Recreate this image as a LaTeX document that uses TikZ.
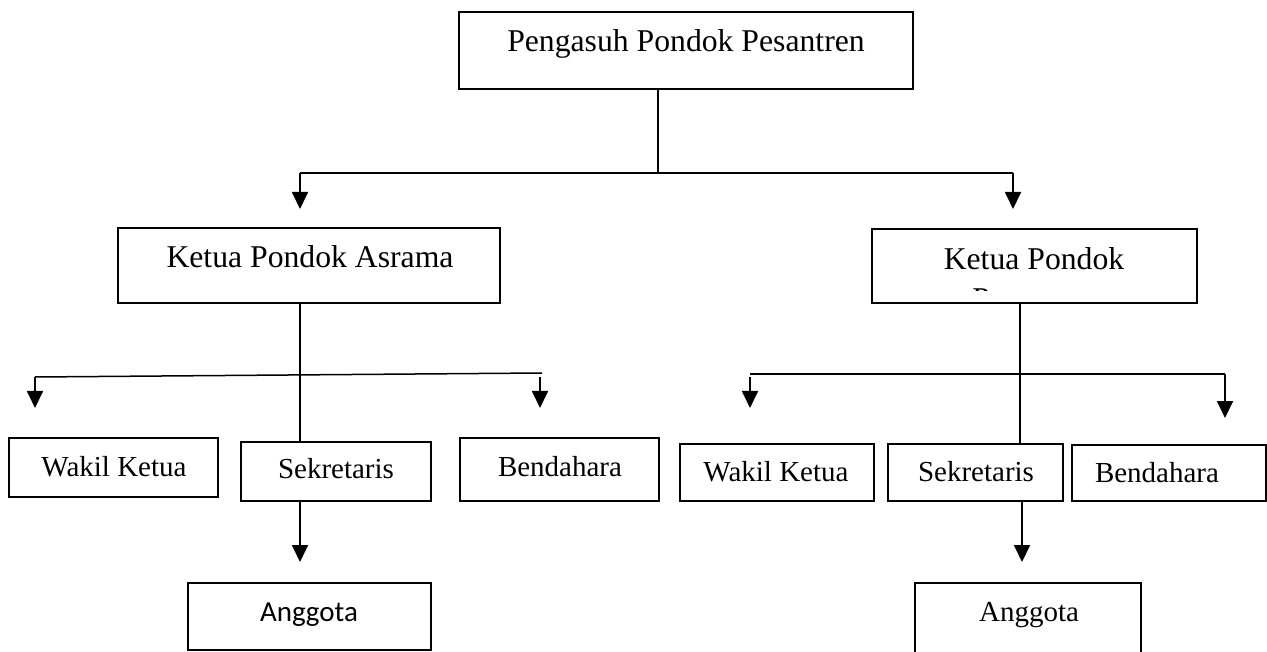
\documentclass[tikz,border=0pt]{standalone}
\usepackage{fontspec}
\setmainfont{Liberation Serif}
\newfontfamily\calibri{Carlito}
\usetikzlibrary{arrows.meta}
\begin{document}
\begin{tikzpicture}[x=1pt,y=-1pt,
  box/.style args={#1x#2}{draw, line width=1.4pt, inner sep=0pt, minimum width=#1pt, minimum height=#2pt},
  big/.style={anchor=base, inner sep=0pt, font=\fontsize{31.7}{38}\selectfont},
  small/.style={anchor=base, inner sep=0pt, font=\fontsize{29}{35}\selectfont},
  ln/.style={line width=1.5pt},
  arr/.style={line width=1.8pt, -{Triangle[width=16pt,length=17pt]}}]
\useasboundingbox (0,0) rectangle (1267,652);
\clip (0,0) rectangle (1267,652);
% boxes
\node[box=454x77] (top) at (686,50.5) {};
\node[box=382x75] (kL) at (309,265.5) {};
\node[box=325x74] (kR) at (1034.5,266) {};
\node[box=209x59] (wL) at (113.5,467.5) {};
\node[box=190x59] (sL) at (336,471.5) {};
\node[box=199x63] (bL) at (559.5,469.5) {};
\node[box=194x57] (wR) at (777,472.5) {};
\node[box=175x57] (sR) at (975.5,472.5) {};
\node[box=194x56] (bR) at (1169,473) {};
\node[box=243x67] (aL) at (309.5,616.5) {};
\node[box=226x80] (aR) at (1028,623) {};
% texts
\node[big] (topT) at (686,52) {Pengasuh Pondok Pesantren};
\node[big] (kLT) at (310,268) {Ketua Pondok Asrama};
\node[big] (kRT) at (1034,270) {Ketua Pondok};
\begin{scope}
  \clip (kR.north west) rectangle (1197,291);
  \node[big] (kRT2) at (1034,310) {Pesantren};
\end{scope}
\node[small] (wLT) at (114,476) {Wakil Ketua};
\node[small] (sLT) at (336,478) {Sekretaris};
\node[small] (bLT) at (560,476) {Bendahara};
\node[small] (wRT) at (776,481) {Wakil Ketua};
\node[small] (sRT) at (976,481) {Sekretaris};
\node[small] (bRT) at (1157,482) {Bendahara};
\node[small, font=\calibri\fontsize{29}{35}\selectfont] (aLT) at (309,621) {Anggota};
\node[small] (aRT) at (1029,621) {Anggota};
% junction coordinates
\coordinate (j0) at (658,173);
\coordinate (jL) at (300,173);
\coordinate (jR) at (1013,173);
\coordinate (eL) at (300,209);
\coordinate (eR) at (1013,209);
\coordinate (hLa) at (35,377);
\coordinate (hLb) at (542,373);
\coordinate (hLe) at (35,408);
\coordinate (bLs) at (540,377);
\coordinate (bLe) at (540,408);
\coordinate (hRa) at (750,374);
\coordinate (hRb) at (1225,374);
\coordinate (wRs) at (750,377);
\coordinate (wRe) at (750,408);
\coordinate (bRe) at (1225,418);
\coordinate (aLe) at (300,562);
\coordinate (aRe) at (1022,562);
% connectors
\draw[ln] (top.south -| j0) -- (j0);
\draw[ln] (jL) -- (jR);
\draw[arr] (jL) -- (eL);
\draw[arr] (jR) -- (eR);
\draw[ln] (kL.south -| jL) -- (sL.north -| jL);
\draw[ln] (hLb) -- (hLa);
\draw[arr] (hLa) -- (hLe);
\draw[arr] (bLs) -- (bLe);
\draw[arr] (sL.south -| jL) -- (aLe);
\draw[ln] (kR.south -| 1020,0) -- (sR.north -| 1020,0);
\draw[ln] (hRa) -- (hRb);
\draw[arr] (hRb) -- (bRe);
\draw[arr] (wRs) -- (wRe);
\draw[arr] (sR.south -| aRe) -- (aRe);
\end{tikzpicture}
\end{document}
